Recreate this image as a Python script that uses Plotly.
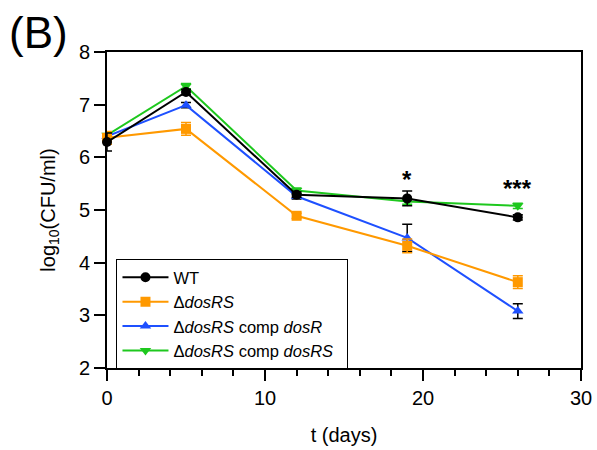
import plotly.graph_objects as go

# ---- data ----
days = [0, 5, 12, 19, 26]

wt = [6.29, 7.24, 5.29, 5.22, 4.86]
wt_err = [0.17, 0.05, 0.05, 0.14, 0.05]

dos_rs = [6.37, 6.54, 4.89, 4.32, 3.63]
dos_rs_err = [0.12, 0.12, 0.05, 0.13, 0.12]

comp_r = [6.40, 6.99, 5.26, 4.47, 3.08]
comp_r_err = [0.05, 0.05, 0.05, 0.26, 0.14]

comp_rs = [6.42, 7.35, 5.37, 5.16, 5.08]
comp_rs_err = [0.05, 0.05, 0.05, 0.05, 0.05]

names = ["WT", "\u0394<i>dosRS</i>", "\u0394<i>dosRS</i> comp <i>dosR</i>",
         "\u0394<i>dosRS</i> comp <i>dosRS</i>"]

sig_x = [19, 26]
sig_y = [5.57, 5.40]
sig_text = ["*", "***"]

FONT = "Liberation Sans, Arial, sans-serif"

series = [
    # (name, y, err, color, symbol, errcolor)
    (names[3], comp_rs, comp_rs_err, "#1EC81E", "triangle-down", "#1EC81E"),
    (names[2], comp_r, comp_r_err, "#1E50FF", "triangle-up", "#000000"),
    (names[1], dos_rs, dos_rs_err, "#FF9900", "square", "#FF9900"),
    (names[0], wt, wt_err, "#000000", "circle", "#000000"),
]

fig = go.Figure()
for name, y, err, color, sym, ecol in series:
    fig.add_trace(go.Scatter(
        x=days, y=y, name=name + "&nbsp;&nbsp;", mode="lines+markers",
        line=dict(color=color, width=2),
        marker=dict(color=color, symbol=sym, size=10),
        error_y=dict(type="data", array=err, visible=True, color=ecol,
                     thickness=1.5, width=5),
        cliponaxis=False,
    ))

for x, y, t in zip(sig_x, sig_y, sig_text):
    fig.add_annotation(x=x, y=y, text="<b>" + t + "</b>", showarrow=False,
                       font=dict(family=FONT, size=24, color="black"),
                       xanchor="center", yanchor="middle")

fig.add_annotation(xref="paper", yref="paper", x=-0.212, y=1.147,
                   text="(B)", showarrow=False, xanchor="left", yanchor="top",
                   font=dict(family=FONT, size=44, color="black"))

fig.update_layout(
    width=597, height=450,
    margin=dict(l=107, r=16, t=52, b=82, autoexpand=False),
    paper_bgcolor="white", plot_bgcolor="white",
    font=dict(family=FONT, size=20, color="black"),
    showlegend=True,
    legend=dict(x=0.02, y=0.345, xanchor="left", yanchor="top",
                traceorder="reversed", bordercolor="black", borderwidth=1,
                bgcolor="white", font=dict(family=FONT, size=16.5),
                itemwidth=46, tracegroupgap=0),
    xaxis=dict(range=[0, 30], dtick=10, tick0=0, ticks="outside", ticklen=11,
               tickwidth=2, tickcolor="black", showline=True, linewidth=2,
               linecolor="black", mirror=True, showgrid=False, zeroline=False,
               automargin=False,
               minor=dict(dtick=2, ticks="outside", ticklen=6, tickwidth=2,
                          tickcolor="black", showgrid=False),
               title=dict(text="t (days)", standoff=20,
                          font=dict(family=FONT, size=20))),
    yaxis=dict(range=[2, 8], dtick=1, ticks="outside", ticklen=11,
               tickwidth=2, tickcolor="black", showline=True, linewidth=2,
               linecolor="black", mirror=True, showgrid=False, zeroline=False,
               automargin=False,
               title=dict(text="log<sub>10</sub>(CFU/ml)", standoff=18,
                          font=dict(family=FONT, size=20))),
)

fig.write_html(
    "out.html",
    config={"displayModeBar": False},
    post_script="document.body.style.margin='0';"
                "document.body.style.overflow='hidden';",
)
